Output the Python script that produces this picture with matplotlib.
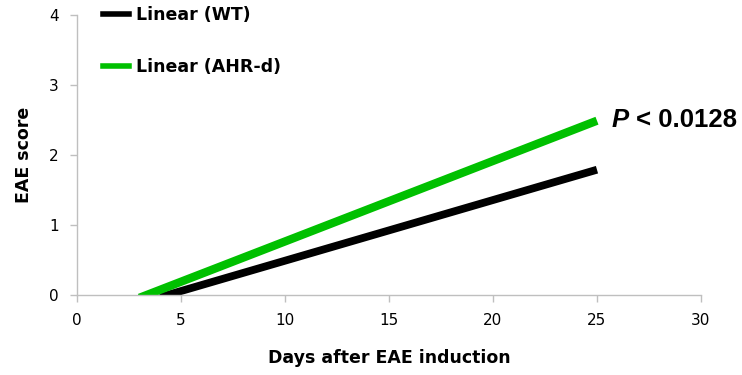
import matplotlib.pyplot as plt
from matplotlib.lines import Line2D

# trend line end points (day, EAE score)
wt_days = [4.0, 25]
wt_score = [-0.03, 1.79]
ahr_days = [3.0, 25]
ahr_score = [-0.04, 2.49]

x_ticks = [0, 5, 10, 15, 20, 25, 30]
y_ticks = [0, 1, 2, 3, 4]

grey = "#bfbfbf"
green = "#00c000"

fig = plt.figure(figsize=(7.42, 3.75), dpi=100)
ax = fig.add_axes([0.1038, 0.2133, 0.8409, 0.7467])

ax.plot(wt_days, wt_score, color="black", lw=5.6, solid_capstyle="butt")
ax.plot(ahr_days, ahr_score, color=green, lw=6.0, solid_capstyle="butt")

ax.set_xlim(0, 30)
ax.set_ylim(0, 4)
ax.set_xticks(x_ticks)
ax.set_yticks(y_ticks)

for s in ["top", "right"]:
    ax.spines[s].set_visible(False)
for s in ["left", "bottom"]:
    ax.spines[s].set_color(grey)
    ax.spines[s].set_linewidth(1.0)
ax.tick_params(colors=grey, labelcolor="black", labelsize=11, length=5, width=1.0, pad=8)

ax.set_xlabel("Days after EAE induction", fontsize=12.5, fontweight="bold", labelpad=15)
ax.set_ylabel("EAE score", fontsize=12.5, fontweight="bold", labelpad=12)

ptxt = ax.text(25.7, 2.5, "P", fontsize=18.5, fontweight="bold", style="italic",
               family="Liberation Sans", va="center", ha="left")
ax.annotate("< 0.0128", xy=(1, 0.5), xycoords=ptxt, xytext=(5, 0),
            textcoords="offset points", va="center", ha="left",
            fontsize=18.5, fontweight="bold", family="Liberation Sans")

handles = [Line2D([], [], color="black", lw=4),
           Line2D([], [], color=green, lw=4)]
fig.legend(handles, ["Linear (WT)", "Linear (AHR-d)"], loc="upper left",
           bbox_to_anchor=(103 / 742, 1 - 6 / 375), frameon=False, borderpad=0,
           borderaxespad=0, handlelength=1.5, handletextpad=0.4, labelspacing=1.95,
           prop={"weight": "bold", "size": 12.5})

fig.savefig("out.png", dpi=100)
